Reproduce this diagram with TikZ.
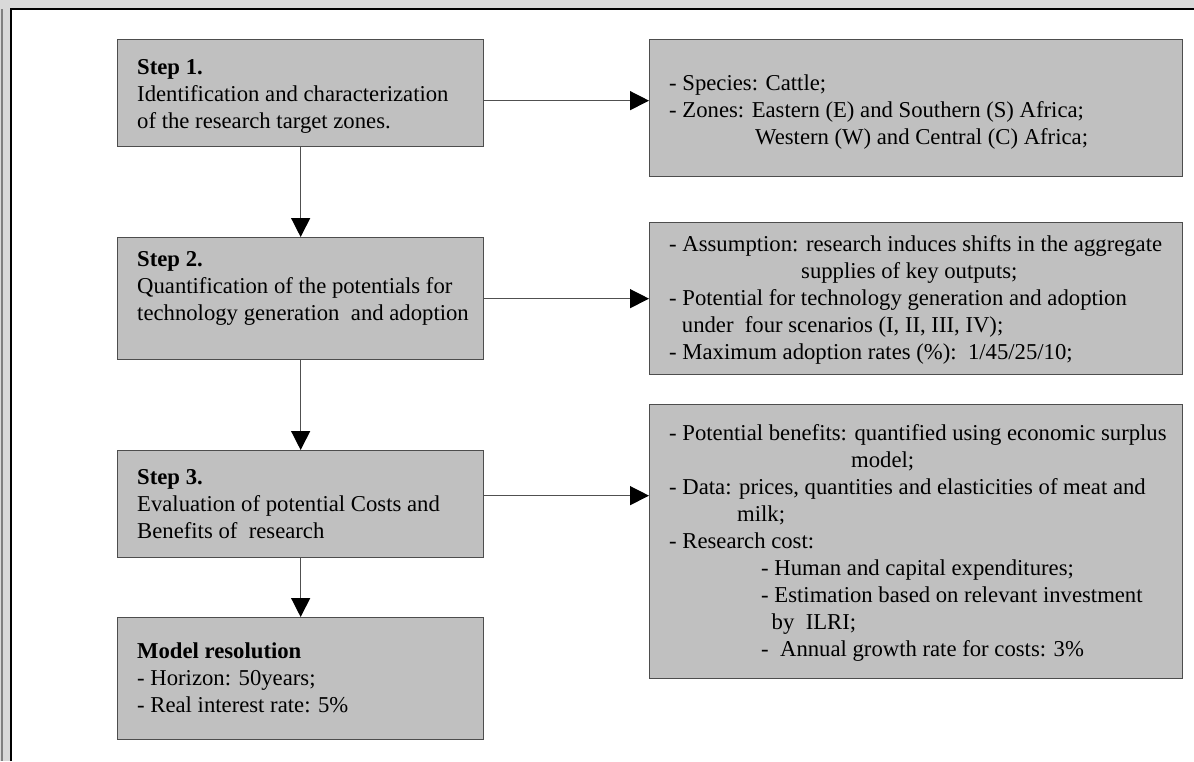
\documentclass[tikz,border=0pt]{standalone}
\usepackage{fontspec}
\setmainfont{Liberation Serif}
\usetikzlibrary{arrows.meta,calc}
\definecolor{bggray}{HTML}{D9D9D9}
\definecolor{boxfill}{HTML}{C0C0C0}
\definecolor{boxline}{HTML}{4D4D4D}
\definecolor{connline}{HTML}{505050}
\begin{document}
\begin{tikzpicture}[x=1pt,y=-1pt,
  stepbox/.style={draw=boxline, fill=boxfill, line width=1.3pt, inner sep=0pt, anchor=north west},
  txt/.style={anchor=north west, inner sep=0pt, align=left, font={\fontsize{22.7}{27}\selectfont}},
  conn/.style={draw=connline, line width=1.3pt, -{Triangle[length=19pt,width=19pt,color=black]}}]
\useasboundingbox (0,0) rectangle (1194,761);
% frame
\fill[bggray] (0,0) rectangle (1194,761);
\fill[white] (11,9) rectangle (1194,761);
\draw[black, line width=1.8pt] (11,761) -- (11,9) -- (1194,9);
\draw[gray, line width=1.5pt] (2,9) -- (2,761);
% left boxes
\node[stepbox, minimum width=366pt, minimum height=107pt] (s1) at (117,39) {};
\node[stepbox, minimum width=366pt, minimum height=122pt] (s2) at (117,237) {};
\node[stepbox, minimum width=366pt, minimum height=107pt] (s3) at (117,450) {};
\node[stepbox, minimum width=366pt, minimum height=122pt] (m)  at (117,617) {};
% right boxes
\node[stepbox, minimum width=533pt, minimum height=137pt] (r1) at (649,39) {};
\node[stepbox, minimum width=533pt, minimum height=152pt] (r2) at (649,222) {};
\node[stepbox, minimum width=533pt, minimum height=274pt] (r3) at (649,404) {};
% texts
\node[txt] (t1) at (137,55.1) {\strut\textbf{Step 1.}\\Identification and characterization\\of the research target zones.};
\node[txt] (t2) at (137,247.1) {\strut\textbf{Step 2.}\\Quantification of the potentials for\\technology generation\ \ and adoption};
\node[txt] (t3) at (137,465.6) {\strut\textbf{Step 3.}\\Evaluation of potential Costs and\\Benefits of\ \ research};
\node[txt] (t4) at (137,639.1) {\strut\textbf{Model resolution}\\- Horizon: 50years;\\- Real interest rate: 5\%};
\node[txt] (t5) at (669,71.1) {\strut- Species: Cattle;\\- Zones: Eastern (E) and Southern (S) Africa;\\\hspace*{86pt}Western (W) and Central (C) Africa;};
\node[txt] (t6) at (669,232.8) {\strut- Assumption: research induces shifts in the aggregate\\\hspace*{132pt}supplies of key outputs;\\- Potential for technology generation and adoption\\\hspace*{12.7pt}under\ \ four scenarios (I, II, III, IV);\\- Maximum adoption rates (\%):\ \ 1/45/25/10;};
\node[txt] (t7) at (669,421.1) {\strut- Potential benefits: quantified using economic surplus\\\hspace*{182pt}model;\\- Data: prices, quantities and elasticities of meat and\\\hspace*{68pt}milk;\\- Research cost:\\\hspace*{92pt}- Human and capital expenditures;\\\hspace*{92pt}- Estimation based on relevant investment\\\hspace*{102.5pt}by\ \ ILRI;\\\hspace*{92pt}-\ \ Annual growth rate for costs: 3\%};
% connectors
\coordinate (a1) at ([yshift=-7.5pt]s1.east);
\draw[conn] (a1) -- (a1 -| r1.west);
\draw[conn] (s2.east) -- (s2.east -| r2.west);
\coordinate (a3) at ([yshift=8.5pt]s3.east);
\draw[conn] (a3) -- (a3 -| r3.west);
\draw[conn] (s1.south) -- (s2.north);
\draw[conn] (s2.south) -- (s3.north);
\draw[conn] (s3.south) -- (m.north);
\end{tikzpicture}
\end{document}
